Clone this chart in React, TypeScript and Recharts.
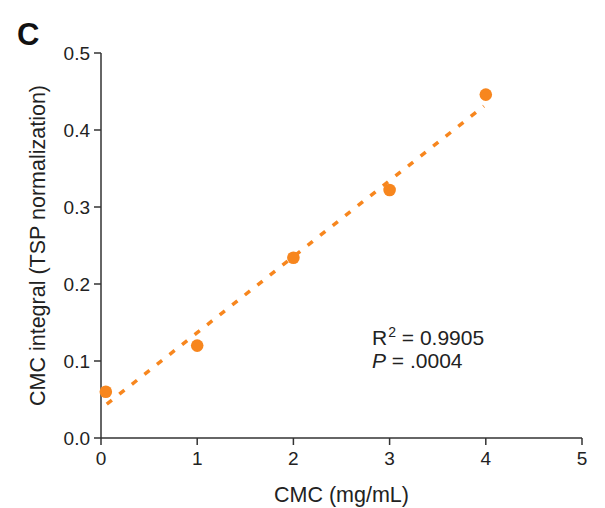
import React from 'react'
import { ScatterChart, Scatter, XAxis, YAxis } from 'recharts'

// CMC concentration (mg/mL) and integral values
const concentrations = [0.05, 1, 2, 3, 4]
const integrals = [0.06, 0.12, 0.234, 0.322, 0.446]

// linear fit end points
const fitX = [0.06, 3.98]
const fitY = [0.044, 0.431]

const xTicks = [0, 1, 2, 3, 4, 5]
const yTicks = [0, 0.1, 0.2, 0.3, 0.4, 0.5]

const points = concentrations.map((x, i) => ({ x, y: integrals[i] }))
const fitLine = fitX.map((x, i) => ({ x, y: fitY[i] }))

const orange = '#F7861E'
const axisColor = '#333333'
const font = '"Liberation Sans", Arial, sans-serif'

const Dot = (props: any) => <circle cx={props.cx} cy={props.cy} r={6.3} fill={orange} />

function App() {
    return (
        <div style={{ position: 'absolute', left: 0, top: 0, width: 605, height: 508, fontFamily: font }}>
            <ScatterChart
                width={605}
                height={508}
                margin={{ top: 53, right: 23, left: 0, bottom: 0 }}>
                <XAxis
                    type='number'
                    dataKey='x'
                    domain={[0, 5]}
                    ticks={xTicks}
                    tickSize={7}
                    tickMargin={7}
                    height={70}
                    stroke={axisColor}
                    strokeWidth={1.5}
                    tick={{ fill: '#222', fontSize: 19, fontFamily: font }}
                    tickFormatter={(v) => String(v)}
                    label={{ value: 'CMC (mg/mL)', position: 'insideBottom', offset: 6, fill: '#222', fontSize: 21.5, fontFamily: font }}
                />
                <YAxis
                    type='number'
                    dataKey='y'
                    domain={[0, 0.5]}
                    ticks={yTicks}
                    tickSize={7}
                    tickMargin={4}
                    width={101}
                    stroke={axisColor}
                    strokeWidth={1.5}
                    tick={{ fill: '#222', fontSize: 19, fontFamily: font }}
                    tickFormatter={(v) => v.toFixed(1)}
                    label={{ value: 'CMC integral (TSP normalization)', angle: -90, position: 'center', dx: -13, fill: '#222', fontSize: 21.5, fontFamily: font }}
                />
                <Scatter
                    data={fitLine}
                    line={{ stroke: orange, strokeWidth: 3.5, strokeDasharray: '6.5 9.5' }}
                    shape={() => <g />}
                    isAnimationActive={false}
                />
                <Scatter data={points} shape={Dot} isAnimationActive={false} />
            </ScatterChart>
            <div style={{ position: 'absolute', left: 17, top: 17, fontSize: 31, fontWeight: 'bold', color: '#111' }}>C</div>
            <div style={{ position: 'absolute', left: 372, top: 325.5, fontSize: 21, lineHeight: '23.5px', color: '#222', whiteSpace: 'nowrap' }}>
                R<span style={{ fontSize: 14, position: 'relative', top: -8, marginLeft: 1 }}>2</span> = 0.9905
            </div>
            <div style={{ position: 'absolute', left: 372, top: 349, fontSize: 21, lineHeight: '23.5px', color: '#222', whiteSpace: 'nowrap' }}>
                <i>P</i> = .0004
            </div>
        </div>
    )
}

export default App
